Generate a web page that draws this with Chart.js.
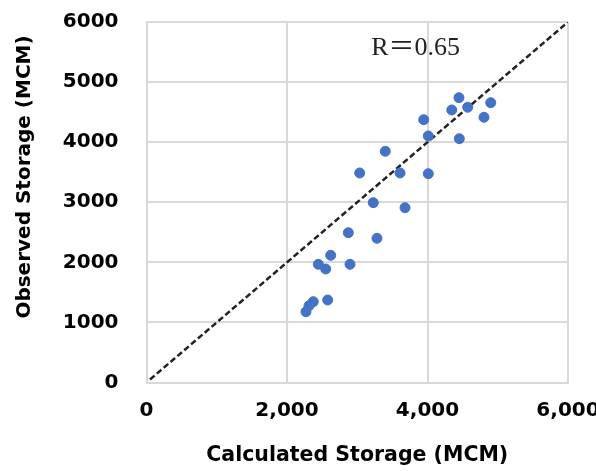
<!DOCTYPE html>
<html>
<head>
<meta charset="utf-8">
<script src="https://cdn.jsdelivr.net/npm/chart.js@4/dist/chart.umd.min.js"></script>
<style>
  html, body { margin: 0; padding: 0; background: #fff; }
  #wrap { width: 596px; height: 471px; }
</style>
</head>
<body>
<div id="wrap"><canvas id="chart"></canvas></div>
<script>
// calculated vs observed storage (MCM)
const calculated = [4448, 4345, 4572, 4900, 4804, 3946, 4011, 4453, 3399, 3035, 3609, 4011,
  3228, 3680, 2873, 3281, 2622, 2446, 2551, 2897, 2579, 2374, 2313, 2270];
const observed = [4740, 4536, 4581, 4657, 4414, 4374, 4103, 4058, 3848, 3487, 3487, 3475,
  2993, 2909, 2493, 2400, 2117, 1967, 1889, 1967, 1373, 1345, 1278, 1178];
const lineX = [50, 6000];
const lineY = [50, 6000];
const rLabel = "R\uFF1D0.65";
const rPos = [3830, 5570];
const yTitle = "Observed Storage (MCM)";

const tickFont = { family: "DejaVu Sans", size: 20, weight: "bold" };

// R value text in the plot + y title (sits a bit above the axis middle in the original)
const extraText = {
  id: "extraText",
  afterDatasetsDraw(chart) {
    const ctx = chart.ctx;
    const x = chart.scales.x.getPixelForValue(rPos[0]);
    const y = chart.scales.y.getPixelForValue(rPos[1]);
    ctx.save();
    ctx.font = "26px 'Liberation Serif', 'Noto Sans CJK SC'";
    ctx.fillStyle = "#222";
    ctx.textAlign = "center";
    ctx.textBaseline = "middle";
    ctx.fillText(rLabel, x, y);

    ctx.translate(25, 177);
    ctx.rotate(-Math.PI / 2);
    ctx.font = "bold 20px 'DejaVu Sans'";
    ctx.fillStyle = "#000";
    ctx.fillText(yTitle, 0, 0);
    ctx.restore();
  },
};

// keep tick labels from pushing the plot area inwards
function noOverflow(s) {
  s.paddingTop = 0;
  s.paddingBottom = 0;
  s.paddingLeft = 0;
  s.paddingRight = 0;
}

new Chart(document.getElementById("chart"), {
  type: "scatter",
  data: {
    datasets: [
      {
        data: calculated.map((c, i) => ({ x: c, y: observed[i] })),
        backgroundColor: "#4472C4",
        borderColor: "#4472C4",
        pointRadius: 5,
        pointHoverRadius: 5,
      },
      {
        data: lineX.map((v, i) => ({ x: v, y: lineY[i] })),
        showLine: true,
        borderColor: "#222",
        borderWidth: 2.5,
        borderDash: [6, 3],
        pointRadius: 0,
      },
    ],
  },
  options: {
    responsive: true,
    maintainAspectRatio: false,
    animation: false,
    layout: { padding: { top: 22, right: 28, left: 0, bottom: 0 } },
    plugins: { legend: { display: false }, tooltip: { enabled: false } },
    scales: {
      x: {
        type: "linear",
        min: 0,
        max: 6000,
        afterFit: (s) => { s.height = 88.5; noOverflow(s); },
        ticks: {
          stepSize: 2000,
          padding: 16,
          color: "#000",
          font: tickFont,
          callback: (v) => v.toLocaleString("en-US"),
        },
        grid: { color: "#d9d9d9", lineWidth: 2, drawTicks: false },
        border: { color: "#d9d9d9", width: 2 },
        title: {
          display: true,
          text: "Calculated Storage (MCM)",
          color: "#000",
          font: { family: "DejaVu Sans", size: 20.5, weight: "bold" },
          padding: { top: 0, bottom: 3 },
        },
      },
      y: {
        min: 0,
        max: 6000,
        afterFit: (s) => { s.width = 146.5; noOverflow(s); },
        ticks: {
          stepSize: 1000,
          padding: 28,
          color: "#000",
          font: tickFont,
          callback: (v) => String(v),
        },
        grid: { color: "#d9d9d9", lineWidth: 2, drawTicks: false },
        border: { color: "#d9d9d9", width: 2 },
      },
    },
  },
  plugins: [extraText],
});
</script>
</body>
</html>
